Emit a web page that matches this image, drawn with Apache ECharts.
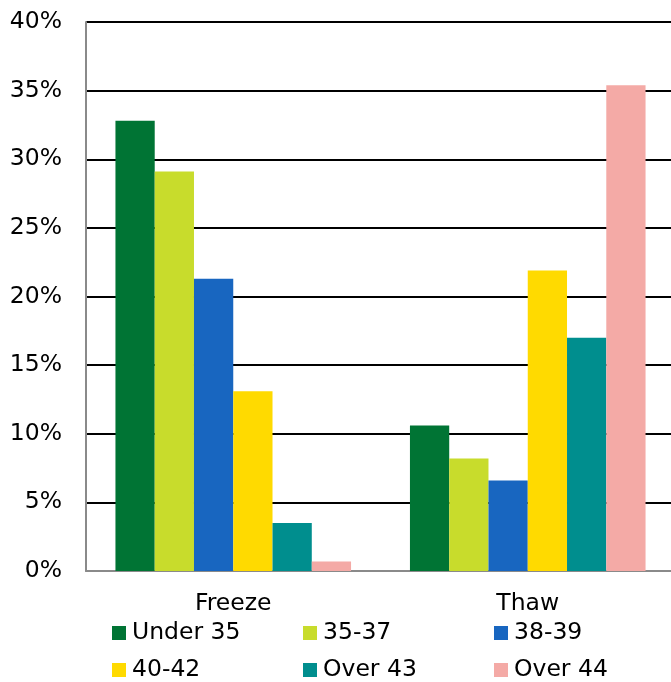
<!DOCTYPE html>
<html>
<head>
<meta charset="utf-8">
<script src="https://cdn.jsdelivr.net/npm/echarts@6/dist/echarts.min.js"></script>
<style>
html,body{margin:0;padding:0;background:#fff;overflow:hidden;width:671px;height:682px;}
#chart{width:675px;height:682px;}
</style>
</head>
<body>
<div id="chart"></div>
<script>
const categories = ['Freeze', 'Thaw'];
const seriesNames = ['Under 35', '35-37', '38-39', '40-42', 'Over 43', 'Over 44'];
const under35 = [32.8, 10.6];
const s35to37 = [29.1, 8.2];
const s38to39 = [21.3, 6.6];
const s40to42 = [13.1, 21.9];
const over43 = [3.5, 17.0];
const over44 = [0.7, 35.4];
const yTicks = [0, 5, 10, 15, 20, 25, 30, 35, 40];
const colors = ['#007434', '#C8DC2C', '#1866C0', '#FFDA00', '#008E8E', '#F4AAA6'];

const values = [under35, s35to37, s38to39, s40to42, over43, over44];
const FONT = 'DejaVu Sans';

const legendPos = [
  {left: 112, top: 621}, {left: 303, top: 621}, {left: 494, top: 621},
  {left: 112, top: 658}, {left: 303, top: 658}, {left: 494, top: 658}
];

const chart = echarts.init(document.getElementById('chart'));
chart.setOption({
  animation: false,
  color: colors,
  grid: {left: 86, right: 0, top: 22, bottom: 111, containLabel: false},
  legend: seriesNames.map((n, i) => ({
    data: [n],
    left: legendPos[i].left,
    top: legendPos[i].top,
    padding: 0,
    icon: 'rect',
    itemWidth: 14,
    itemHeight: 14,
    textStyle: {fontFamily: FONT, fontSize: 23.5, color: '#000', lineHeight: 24, padding: [0, 0, 0, 1]}
  })),
  xAxis: {
    type: 'category',
    data: categories,
    axisLine: {show: true, lineStyle: {color: '#8a8a8a', width: 2}},
    axisTick: {show: false},
    axisLabel: {fontFamily: FONT, fontSize: 23.5, color: '#000', margin: 21}
  },
  yAxis: {
    type: 'value',
    min: yTicks[0],
    max: yTicks[yTicks.length - 1],
    interval: 5,
    axisLine: {show: true, lineStyle: {color: '#8a8a8a', width: 2}},
    axisTick: {show: false},
    axisLabel: {fontFamily: FONT, fontSize: 23.5, color: '#000', margin: 24, formatter: v => v + '%'},
    splitLine: {show: true, lineStyle: {color: '#000', width: 2}}
  },
  series: seriesNames.map((n, i) => ({
    name: n,
    type: 'bar',
    data: values[i],
    barGap: '0%',
    barCategoryGap: '20%',
    itemStyle: {color: colors[i]}
  }))
});
</script>
</body>
</html>
